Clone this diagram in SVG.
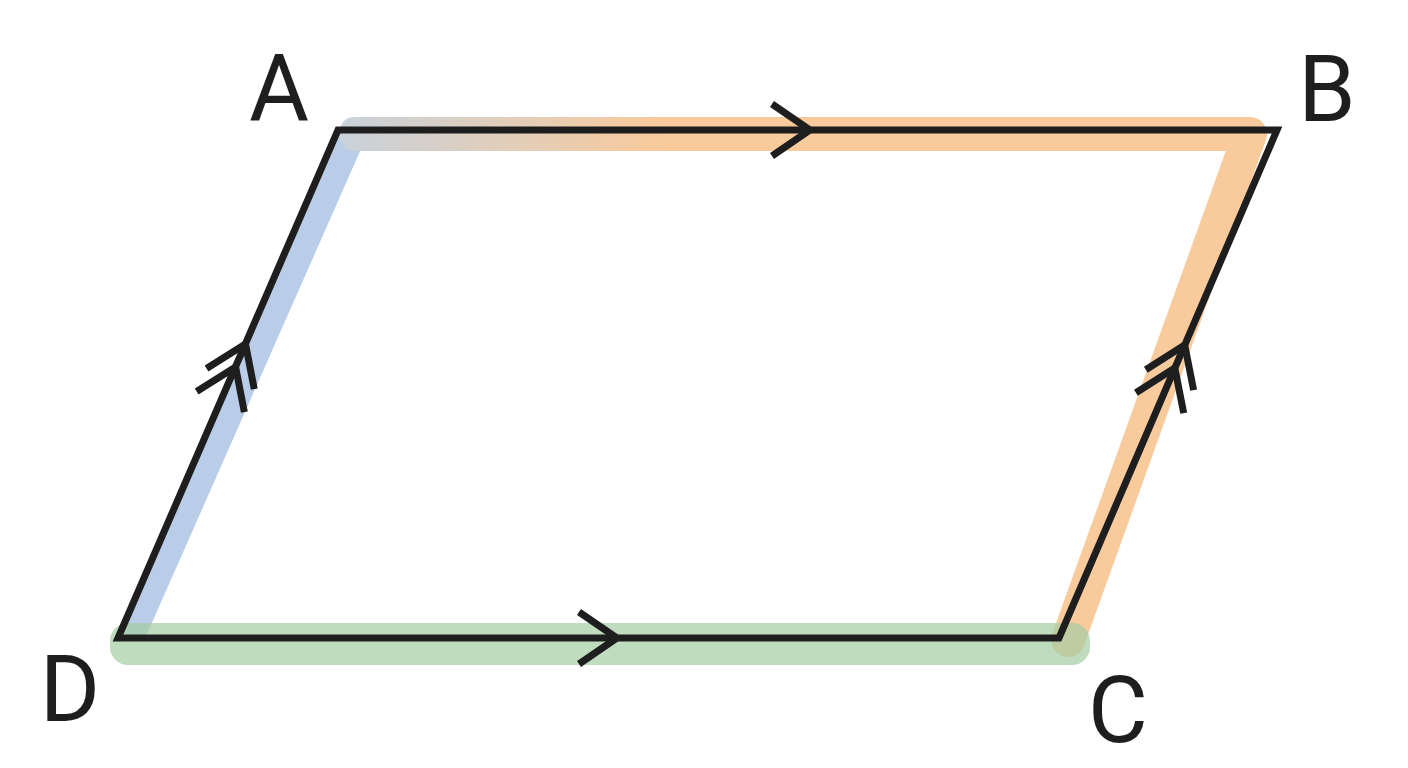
<svg xmlns="http://www.w3.org/2000/svg" width="1408" height="768" viewBox="0 0 1408 768">
  <defs>
    <linearGradient id="topGrad" gradientUnits="userSpaceOnUse" x1="340" y1="0" x2="660" y2="0">
      <stop offset="0" stop-color="#c9d2db"/>
      <stop offset="1" stop-color="#f8ca9c"/>
    </linearGradient>
    <path id="chev" d="M-38,-26 L0,0 L-38,26" fill="none" stroke="#1e1e1e" stroke-width="7" stroke-linejoin="miter"/>
  </defs>
  <style>
    .lbl { font-family: "Roboto", "Liberation Sans", sans-serif; font-size: 92px; fill: #1e1e1e; text-anchor: middle; }
    .edge { fill: none; stroke: #1e1e1e; stroke-width: 7; stroke-linejoin: miter; }
  </style>
  <rect x="0" y="0" width="1408" height="768" fill="#ffffff"/>
  <g id="highlights">
    <line x1="354" y1="134" x2="136" y2="628" stroke="#b9cde8" stroke-width="25" stroke-linecap="round"/>
    <rect x="340" y="117" width="920" height="34" rx="14" fill="url(#topGrad)"/>
    <line x1="1250" y1="134" x2="1068" y2="640" stroke="#f8ca9c" stroke-width="34" stroke-linecap="round"/>
    <rect x="110" y="623" width="980" height="42" rx="18" fill="#a4cda4" fill-opacity="0.7"/>
  </g>
  <g id="connectors">
    <polygon class="edge" points="338,130 1277,130 1059,638 118,638"/>
    <use href="#chev" transform="translate(810,130)"/>
    <use href="#chev" transform="translate(617,638)"/>
    <use href="#chev" transform="translate(245.5,344) rotate(-66.6)"/>
    <use href="#chev" transform="translate(235.6,367) rotate(-66.6)"/>
    <use href="#chev" transform="translate(1184.7,345) rotate(-66.8)"/>
    <use href="#chev" transform="translate(1174.8,368) rotate(-66.8)"/>
  </g>
  <g id="node-A"><text class="lbl" x="279" y="120">A</text></g>
  <g id="node-B"><text class="lbl" x="1327" y="121">B</text></g>
  <g id="node-C"><text class="lbl" x="1118" y="742">C</text></g>
  <g id="node-D"><text class="lbl" x="70" y="721">D</text></g>
</svg>
